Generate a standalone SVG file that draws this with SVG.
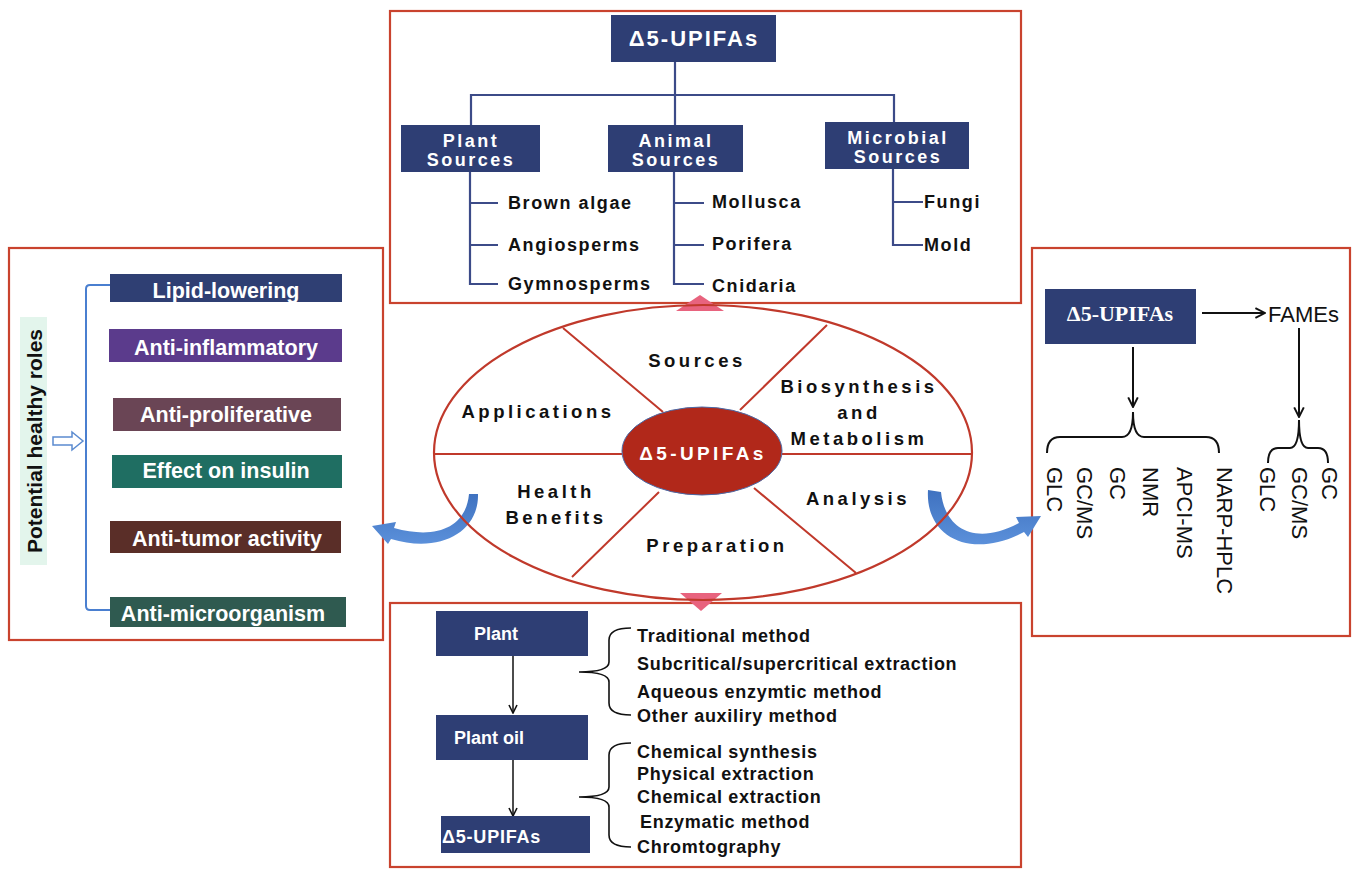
<svg xmlns="http://www.w3.org/2000/svg" width="1353" height="869" viewBox="0 0 1353 869">
<style>
.frame{fill:none;stroke:#c9432e;stroke-width:2.2}
.navy{fill:#2e3e74}
.wt{fill:#fff;font-family:"Liberation Sans",Arial,sans-serif;font-weight:bold}
.bk{fill:#111;font-family:"Liberation Sans",Arial,sans-serif;font-weight:bold}
.tree{fill:none;stroke:#3c4b88;stroke-width:2.2}
.ell{fill:none;stroke:#c0392b;stroke-width:2.2}
.ar{fill:none;stroke:#111;stroke-width:2}
.br{fill:none;stroke:#111;stroke-width:1.6}
.vt{fill:#111;font-family:"Liberation Sans",Arial,sans-serif;font-size:22px}
.tri{fill:#e8637e}
.blue{fill:url(#bg)}
.src{font-size:18px;letter-spacing:2.5px}
.leaf{font-size:18px;letter-spacing:1.6px}
.seg{font-size:18.5px;letter-spacing:3.5px;text-anchor:middle}
.role{font-size:21.5px;text-anchor:middle}
.meth{font-size:18px;letter-spacing:0.7px}
</style>
<defs>
<linearGradient id="bg" x1="0" y1="0" x2="0" y2="1">
<stop offset="0" stop-color="#3f72c0"/>
<stop offset="1" stop-color="#5b90da"/>
</linearGradient>
<marker id="chev" viewBox="0 0 10 10" refX="9" refY="5" markerWidth="12" markerHeight="12" markerUnits="userSpaceOnUse" orient="auto">
<path d="M1,1 L9,5 L1,9" fill="none" stroke="#111" stroke-width="1.6"/>
</marker>
<marker id="chevs" viewBox="0 0 10 10" refX="9" refY="5" markerWidth="10" markerHeight="10" markerUnits="userSpaceOnUse" orient="auto">
<path d="M1,1 L9,5 L1,9" fill="none" stroke="#111" stroke-width="1.6"/>
</marker>
</defs>
<rect width="1353" height="869" fill="#fff"/>

<!-- Frames -->
<g id="frames">
<rect class="frame" x="390" y="11" width="631" height="292"/>
<rect class="frame" x="9" y="248" width="374" height="392"/>
<rect class="frame" x="1032" y="248" width="318" height="388" stroke-width="3"/>
<rect class="frame" x="390" y="603" width="631" height="264"/>
</g>

<!-- Connectors -->
<g id="connectors">
<path class="tree" d="M675,62 V125 M471,125 V95 H894 V122"/>
<path class="tree" d="M470,172 V284 H498 M470,203 H498 M470,245 H498"/>
<path class="tree" d="M674,172 V284 H704 M674,203 H704 M674,245 H704"/>
<path class="tree" d="M893,169 V245 H923 M893,202 H923"/>
<path d="M110,285 H90 Q86,285 86,289 V606 Q86,610 90,610 H110" fill="none" stroke="#4a7fd0" stroke-width="2"/>
<path d="M53,437 H72 V432 L83,441 L72,450 V445 H53 Z" fill="#fff" stroke="#5b8bd0" stroke-width="1.5"/>
<line class="ar" x1="1202" y1="313" x2="1265" y2="313" marker-end="url(#chev)"/>
<line class="ar" x1="1133" y1="347" x2="1133" y2="407" marker-end="url(#chev)"/>
<line class="ar" x1="1299" y1="328" x2="1299" y2="417" marker-end="url(#chev)"/>
<path class="ar" d="M1047,453 Q1047,437 1060,437 H1122 Q1133,437 1133,412 Q1133,437 1144,437 H1206 Q1219,437 1219,453"/>
<path class="ar" d="M1268,463 Q1268,448 1278,448 H1290 Q1299,448 1299,420 Q1299,448 1308,448 H1318 Q1328,448 1328,463"/>
<line x1="513" y1="656" x2="513" y2="713" stroke="#111" stroke-width="1.5" marker-end="url(#chevs)"/>
<line x1="513" y1="760" x2="513" y2="816" stroke="#111" stroke-width="1.5" marker-end="url(#chevs)"/>
<path class="br" d="M631,628 Q609,628 609,640 V662 Q609,672 579,672 Q609,672 609,682 V703 Q609,715 631,715"/>
<path class="br" d="M631,743 Q609,743 609,755 V787 Q609,797 579,797 Q609,797 609,807 V835 Q609,847 631,847"/>
<path class="blue" d="M478,494 C479,532 440,554 391,539 L388,544 L372,526 L396,522 L394,528 C437,540 466,527 469,494 Z"/>
<path class="blue" d="M928,490 C925,538 972,560 1024,532 L1028,537 L1041,516 L1016,517 L1019,523 C976,546 945,530 941,492 Z"/>
<polygon class="tri" points="700,295 676,311 724,311"/>
<polygon class="tri" points="680,593 722,593 701,611"/>
</g>

<!-- Sources tree -->
<g id="sources-root">
<rect class="navy" x="611" y="15" width="165" height="47"/>
<text class="wt" x="694" y="46" font-size="22" letter-spacing="2" text-anchor="middle">Δ5-UPIFAs</text>
</g>
<g id="plant-sources">
<rect class="navy" x="401" y="125" width="139" height="47"/>
<text class="wt src" x="471" y="147" text-anchor="middle">Plant</text>
<text class="wt src" x="471" y="166" text-anchor="middle">Sources</text>
</g>
<g id="animal-sources">
<rect class="navy" x="608" y="125" width="135" height="47"/>
<text class="wt src" x="676" y="147" text-anchor="middle">Animal</text>
<text class="wt src" x="676" y="166" text-anchor="middle">Sources</text>
</g>
<g id="microbial-sources">
<rect class="navy" x="825" y="122" width="144" height="47"/>
<text class="wt src" x="898" y="144" text-anchor="middle">Microbial</text>
<text class="wt src" x="898" y="163" text-anchor="middle">Sources</text>
</g>
<g id="source-leaves">
<text class="bk leaf" x="508" y="209">Brown algae</text>
<text class="bk leaf" x="508" y="251">Angiosperms</text>
<text class="bk leaf" x="508" y="290">Gymnosperms</text>
<text class="bk leaf" x="712" y="208">Mollusca</text>
<text class="bk leaf" x="712" y="250">Porifera</text>
<text class="bk leaf" x="712" y="292">Cnidaria</text>
<text class="bk leaf" x="924" y="208">Fungi</text>
<text class="bk leaf" x="924" y="251">Mold</text>
</g>

<!-- Central ellipse -->
<g id="center-ellipse">
<ellipse class="ell" cx="703" cy="452.5" rx="269" ry="147.5"/>
<path d="M434,454 H622 M782,454 H972 M563,328 L663,412 M827,325 L740,410 M572,577 L659,492 M856,573 L754,488" stroke="#c0392b" stroke-width="2" fill="none"/>
<text class="bk seg" x="697" y="367">Sources</text>
<text class="bk seg" x="538" y="418">Applications</text>
<text class="bk seg" x="859" y="393">Biosynthesis</text>
<text class="bk seg" x="859" y="419">and</text>
<text class="bk seg" x="859" y="445">Metabolism</text>
<text class="bk seg" x="556" y="498">Health</text>
<text class="bk seg" x="556" y="524">Benefits</text>
<text class="bk seg" x="858" y="505">Analysis</text>
<text class="bk seg" x="717" y="552">Preparation</text>
</g>
<g id="center-node">
<ellipse cx="702" cy="451" rx="80" ry="44" fill="#b1281a" stroke="#4a6aa8" stroke-width="1"/>
<text class="wt" x="703" y="460" font-size="19" letter-spacing="3.4" text-anchor="middle">Δ5-UPIFAs</text>
</g>

<!-- Health benefits -->
<g id="health-label">
<rect x="20" y="317" width="27" height="248" fill="#e3f5ec"/>
<text class="bk" transform="translate(42,441) rotate(-90)" font-size="21" text-anchor="middle">Potential healthy roles</text>
</g>
<g id="role-lipid">
<rect x="110" y="274" width="232" height="28" fill="#2f3f73"/>
<text class="wt role" x="226" y="298">Lipid-lowering</text>
</g>
<g id="role-inflam">
<rect x="109" y="329" width="233" height="33" fill="#5b3b8c"/>
<text class="wt role" x="226" y="355">Anti-inflammatory</text>
</g>
<g id="role-prolif">
<rect x="113" y="398" width="228" height="33" fill="#6a4555"/>
<text class="wt role" x="226" y="422">Anti-proliferative</text>
</g>
<g id="role-insulin">
<rect x="112" y="455" width="230" height="33" fill="#1f6e62"/>
<text class="wt role" x="226" y="478">Effect on insulin</text>
</g>
<g id="role-tumor">
<rect x="110" y="521" width="231" height="32" fill="#5a2e28"/>
<text class="wt role" x="227" y="546">Anti-tumor activity</text>
</g>
<g id="role-micro">
<rect x="110" y="597" width="236" height="30" fill="#2f5a50"/>
<text class="wt role" x="223" y="621">Anti-microorganism</text>
</g>

<!-- Analysis -->
<g id="analysis-root">
<rect class="navy" x="1045" y="289" width="151" height="55"/>
<text x="1120" y="321" font-family="'Liberation Serif','Times New Roman',serif" font-weight="bold" font-size="22" fill="#fff" text-anchor="middle">Δ5-UPIFAs</text>
</g>
<g id="analysis-fames">
<text x="1268" y="322" font-family="'Liberation Sans',Arial,sans-serif" font-size="22" fill="#111">FAMEs</text>
</g>
<g id="analysis-methods">
<text class="vt" transform="translate(1047,467) rotate(90)">GLC</text>
<text class="vt" transform="translate(1077,467) rotate(90)">GC/MS</text>
<text class="vt" transform="translate(1110,467) rotate(90)">GC</text>
<text class="vt" transform="translate(1143,467) rotate(90)">NMR</text>
<text class="vt" transform="translate(1177,467) rotate(90)">APCI-MS</text>
<text class="vt" transform="translate(1217,467) rotate(90)">NARP-HPLC</text>
<text class="vt" transform="translate(1260,467) rotate(90)">GLC</text>
<text class="vt" transform="translate(1292,467) rotate(90)">GC/MS</text>
<text class="vt" transform="translate(1322,467) rotate(90)">GC</text>
</g>

<!-- Preparation -->
<g id="prep-plant">
<rect class="navy" x="436" y="611" width="152" height="45"/>
<text class="wt" x="474" y="640" font-size="18">Plant</text>
</g>
<g id="prep-oil">
<rect class="navy" x="436" y="715" width="152" height="45"/>
<text class="wt" x="454" y="744" font-size="18">Plant oil</text>
</g>
<g id="prep-product">
<rect class="navy" x="441" y="816" width="149" height="37"/>
<text class="wt" x="442" y="843" font-size="18" letter-spacing="0.8">Δ5-UPIFAs</text>
</g>
<g id="prep-methods">
<text class="bk meth" x="637" y="642">Traditional method</text>
<text class="bk meth" x="637" y="670">Subcritical/supercritical extraction</text>
<text class="bk meth" x="637" y="698">Aqueous enzymtic method</text>
<text class="bk meth" x="637" y="722">Other auxiliry method</text>
<text class="bk meth" x="637" y="758">Chemical synthesis</text>
<text class="bk meth" x="637" y="780">Physical extraction</text>
<text class="bk meth" x="637" y="803">Chemical extraction</text>
<text class="bk meth" x="640" y="828">Enzymatic method</text>
<text class="bk meth" x="637" y="853">Chromtography</text>
</g>
</svg>
